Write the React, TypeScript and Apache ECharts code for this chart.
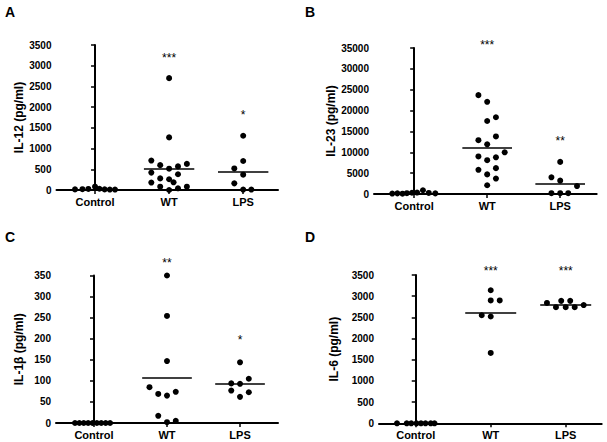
import React, { useEffect, useRef } from "react";
import * as echarts from "echarts";

const categories = ["Control", "WT", "LPS"];
const panelLetters = ["A", "B", "C", "D"];
const yNames = ["IL-12 (pg/ml)", "IL-23 (pg/ml)", "IL-1β (pg/ml)", "IL-6 (pg/ml)"];
const yMax = [3500, 35000, 350, 3500];
const yStep = [500, 5000, 50, 500];

// jitter offsets (in category widths) and values, per group
const il12ControlX = [-0.27, -0.17, -0.09, 0.0, 0.06, 0.13, 0.2, 0.27];
const il12Control = [15, 20, 25, 80, 30, 15, 10, 10];
const il12WTX = [0, 0, -0.24, -0.12, 0, 0.12, 0.24, -0.24, 0.12, -0.24, -0.12, 0, 0.06, -0.12, 0, 0.12, 0.24];
const il12WT = [2700, 1270, 710, 600, 515, 570, 630, 420, 380, 180, 280, 260, 185, 80, 0, 40, 80];
const il12LPSX = [0, 0, -0.12, 0, -0.12, 0, 0.11];
const il12LPS = [1310, 700, 520, 370, 160, 10, 10];

const il23ControlX = [-0.3, -0.23, -0.16, -0.1, -0.03, 0.04, 0.12, 0.2, 0.29];
const il23Control = [100, 150, 80, 200, 300, 350, 900, 250, 150];
const il23WTX = [-0.12, 0, 0.12, 0, -0.12, 0.12, 0, 0.24, -0.12, 0, 0.12, -0.12, 0.12, 0, 0.12, 0];
const il23WT = [23700, 22100, 18400, 17500, 12900, 13800, 11900, 10000, 9000, 8100, 8800, 5800, 6200, 4700, 3700, 2100];
const il23LPSX = [0, -0.12, 0, 0.23, -0.12, 0, 0.11];
const il23LPS = [7700, 4000, 3200, 1900, 200, 200, 200];

const il1bControlX = [-0.26, -0.2, -0.14, -0.08, -0.02, 0.04, 0.1, 0.16, 0.22];
const il1bControl = [0, 0, 0, 0, 0, 0, 0, 0, 0];
const il1bWTX = [0, 0, 0, -0.24, -0.12, 0, 0.12, -0.12, 0, 0.12];
const il1bWT = [350, 254, 147, 85, 69, 65, 74, 17, 2, 5];
const il1bLPSX = [0, -0.12, 0, 0.12, -0.12, 0, 0.12];
const il1bLPS = [144, 94, 93, 105, 77, 62, 73];

const il6ControlX = [-0.25, -0.12, -0.06, 0.01, 0.07, 0.13, 0.2, 0.25];
const il6Control = [0, 0, 0, 0, 0, 0, 0, 0];
const il6WTX = [0, 0, 0.12, -0.12, 0, 0];
const il6WT = [3140, 2900, 2900, 2550, 2520, 1660];
const il6LPSX = [-0.25, -0.13, -0.06, 0, 0.06, 0.12, 0.24];
const il6LPS = [2840, 2740, 2890, 2740, 2890, 2740, 2790];

const significance = [
  ["", "***", "*"],
  ["", "***", "**"],
  ["", "**", "*"],
  ["", "***", "***"],
];
const significanceY = [
  [0, 3260, 1890],
  [0, 36500, 13350],
  [0, 387, 203],
  [0, 3660, 3660],
];

const panels = [
  [[il12ControlX, il12Control], [il12WTX, il12WT], [il12LPSX, il12LPS]],
  [[il23ControlX, il23Control], [il23WTX, il23WT], [il23LPSX, il23LPS]],
  [[il1bControlX, il1bControl], [il1bWTX, il1bWT], [il1bLPSX, il1bLPS]],
  [[il6ControlX, il6Control], [il6WTX, il6WT], [il6LPSX, il6LPS]],
];

// layout
const grids = [
  { left: 56.5, top: 45, width: 221.5, height: 145 },
  { left: 374, top: 48, width: 222.7, height: 146 },
  { left: 56, top: 275.5, width: 222, height: 147.5 },
  { left: 379, top: 275, width: 222.7, height: 148.3 },
];
const xRanges = [
  [-0.52, 2.47],
  [-0.55, 2.5],
  [-0.52, 2.52],
  [-0.49, 2.48],
];
const nameGaps = [31, 34, 31, 39];
const letterPos = [
  [5, 5],
  [305, 5],
  [5, 229.5],
  [305, 229.5],
];
const FONT = "'Liberation Sans', Arial, Helvetica, sans-serif";
const HALF = 0.34;

function mean(a: number[]) {
  return a.reduce((s, v) => s + v, 0) / a.length;
}

export default function App() {
  const ref = useRef<HTMLDivElement>(null);
  useEffect(() => {
    if (!ref.current) return;
    const chart = echarts.init(ref.current, null, { renderer: "svg" });
    const xAxis: any[] = [];
    const yAxis: any[] = [];
    const series: any[] = [];
    panels.forEach((groups, p) => {
      xAxis.push({
        type: "value",
        gridIndex: p,
        min: xRanges[p][0],
        max: xRanges[p][1],
        splitLine: { show: false },
        axisLine: { show: true, onZero: false, lineStyle: { color: "#000", width: 2 } },
        axisTick: {
          show: true,
          customValues: [0, 1, 2],
          length: 4,
          lineStyle: { color: "#000", width: 1.5 },
        },
        axisLabel: {
          customValues: [0, 1, 2],
          formatter: (v: number) => categories[Math.round(v)] ?? "",
          color: "#000",
          fontWeight: "bold",
          fontSize: 11,
          fontFamily: FONT,
          margin: 6,
        },
      });
      yAxis.push({
        type: "value",
        gridIndex: p,
        min: 0,
        max: yMax[p],
        interval: yStep[p],
        splitLine: { show: false },
        axisLine: { show: true, lineStyle: { color: "#000", width: 2 } },
        axisTick: { show: true, length: 4, lineStyle: { color: "#000", width: 1.5 } },
        axisLabel: {
          formatter: (v: number) => String(v),
          color: "#000",
          fontWeight: "bold",
          fontSize: 10,
          fontFamily: FONT,
          margin: 5,
        },
        name: yNames[p],
        nameLocation: "middle",
        nameGap: nameGaps[p],
        nameTextStyle: { color: "#000", fontWeight: "bold", fontSize: 12, fontFamily: FONT },
      });
      groups.forEach(([xs, ys], g) => {
        const s: any = {
          type: "scatter",
          xAxisIndex: p,
          yAxisIndex: p,
          symbol: "circle",
          symbolSize: 6,
          itemStyle: { color: "#000", opacity: 1 },
          clip: false,
          z: 3,
          data: ys.map((v, i) => [g + xs[i], v]),
        };
        if (g > 0) {
          const m = mean(ys);
          s.markLine = {
            silent: true,
            symbol: ["none", "none"],
            label: { show: false },
            lineStyle: { color: "#000", width: 1.5, type: "solid", opacity: 1 },
            data: [[{ coord: [g - HALF, m] }, { coord: [g + HALF, m] }]],
          };
        }
        series.push(s);
      });
      series.push({
        type: "scatter",
        xAxisIndex: p,
        yAxisIndex: p,
        symbol: "circle",
        symbolSize: 1,
        clip: false,
        itemStyle: { color: "rgba(0,0,0,0)", opacity: 1 },
        label: {
          show: true,
          position: "inside",
          formatter: (d: any) => d.name,
          color: "#000",
          fontSize: 12,
          fontFamily: FONT,
          offset: [0, 3],
        },
        data: significance[p]
          .map((t, g) => ({ name: t, value: [g, significanceY[p][g]] }))
          .filter((d) => d.name !== ""),
      });
    });
    const graphic = panelLetters.map((t, i) => ({
      type: "text",
      left: letterPos[i][0],
      top: letterPos[i][1],
      style: { text: t, fill: "#000", font: `bold 14px ${FONT}` },
    }));
    chart.setOption({
      animation: false,
      backgroundColor: "#fff",
      grid: grids.map((g) => ({ ...g, containLabel: false })),
      xAxis,
      yAxis,
      series,
      graphic,
    });
    return () => chart.dispose();
  }, []);
  return (
    <div
      ref={ref}
      style={{ position: "absolute", left: 0, top: 0, width: 607, height: 442 }}
    />
  );
}
